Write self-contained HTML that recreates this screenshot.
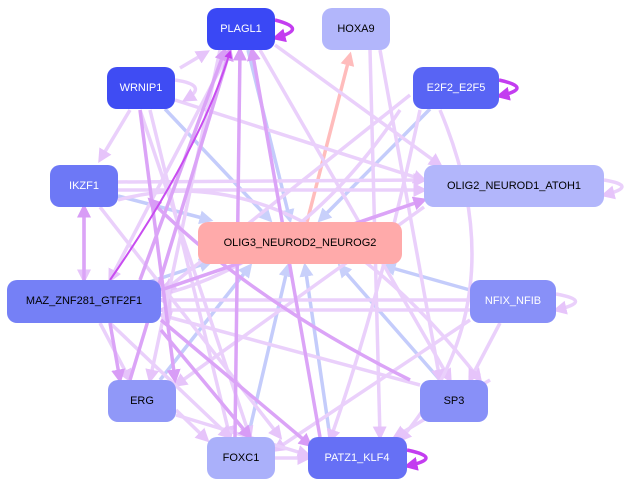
<!DOCTYPE html>
<html><head><meta charset="utf-8"><style>
body{margin:0;background:#fff}
svg{display:block}
text{font-family:"Liberation Sans",sans-serif;font-size:11px;fill:#fff;text-anchor:middle;dominant-baseline:central}
</style></head><body>
<svg width="636" height="489" viewBox="0 0 636 489">
<defs>
<marker id="a1" markerWidth="4" markerHeight="4" refX="3" refY="2" orient="auto"><path d="M0,0L4,2L0,4z" fill="#e6c4fa"/></marker>
<marker id="a2" markerWidth="4" markerHeight="4" refX="3" refY="2" orient="auto"><path d="M0,0L4,2L0,4z" fill="#d89cf6"/></marker>
<marker id="a3" markerWidth="4" markerHeight="4" refX="3" refY="2" orient="auto"><path d="M0,0L4,2L0,4z" fill="#c8d0fb"/></marker>
<marker id="a4" markerWidth="4" markerHeight="4" refX="3" refY="2" orient="auto"><path d="M0,0L4,2L0,4z" fill="#c33df0"/></marker>
<marker id="a5" markerWidth="4" markerHeight="4" refX="3" refY="2" orient="auto"><path d="M0,0L4,2L0,4z" fill="#ffbcbc"/></marker>
</defs>
<g fill="none" stroke-width="3.5">
<g stroke="#c4ccfb" marker-end="url(#a3)">
<line x1="248" y1="50" x2="290" y2="220"/>
<line x1="165" y1="109" x2="270" y2="220"/>
<line x1="118" y1="196" x2="210" y2="220"/>
<line x1="430" y1="109" x2="320" y2="220"/>
<line x1="140" y1="285" x2="210" y2="262"/>
<line x1="470" y1="290" x2="385" y2="266"/>
<line x1="440" y1="380" x2="340" y2="266"/>
<line x1="160" y1="380" x2="250" y2="266"/>
<line x1="248" y1="437" x2="288" y2="266"/>
<line x1="330" y1="437" x2="305" y2="266"/>
</g>
<line x1="307" y1="222" x2="350" y2="55" stroke="#ffbcbc" marker-end="url(#a5)"/>
<g stroke="#ead0fb" marker-end="url(#a1)">
<line x1="130" y1="110" x2="100" y2="160"/>
<line x1="180" y1="68" x2="207" y2="52"/>
<line x1="175" y1="100" x2="424" y2="180"/>
<line x1="118" y1="182" x2="424" y2="180"/>
<line x1="118" y1="190" x2="424" y2="190"/>
<path d="M118,200 Q300,150 480,380"/>
<line x1="275" y1="45" x2="440" y2="165"/>
<line x1="260" y1="50" x2="450" y2="380"/>
<path d="M400,110 Q300,260 160,295"/>
<line x1="410" y1="95" x2="165" y2="290"/>
<line x1="470" y1="300" x2="161" y2="300"/>
<line x1="470" y1="310" x2="161" y2="310"/>
<line x1="424" y1="200" x2="161" y2="290"/>
<line x1="420" y1="385" x2="161" y2="315"/>
<line x1="424" y1="207" x2="176" y2="385"/>
<line x1="470" y1="320" x2="275" y2="450"/>
<line x1="490" y1="380" x2="395" y2="437"/>
<line x1="500" y1="323" x2="470" y2="380"/>
<line x1="370" y1="50" x2="380" y2="437"/>
<line x1="380" y1="50" x2="440" y2="380"/>
<path d="M440,110 Q520,300 400,440"/>
<path d="M420,110 Q380,300 330,440"/>
<line x1="150" y1="110" x2="230" y2="437"/>
<line x1="140" y1="110" x2="250" y2="437"/>
<line x1="176" y1="410" x2="207" y2="440"/>
<line x1="176" y1="415" x2="308" y2="455"/>
<line x1="275" y1="458" x2="308" y2="458"/>
<line x1="100" y1="323" x2="130" y2="380"/>
<line x1="110" y1="323" x2="230" y2="437"/>
<line x1="84" y1="207" x2="84" y2="280"/>
<line x1="100" y1="207" x2="280" y2="437"/>
<line x1="230" y1="50" x2="110" y2="280"/>
<line x1="220" y1="50" x2="150" y2="380"/>
<path d="M175,80 Q210,85 185,100"/>
<path d="M604,180 Q640,186 604,195"/>
<path d="M556,294 Q595,301 556,310"/>
</g>
<g stroke="#dba4f7" marker-end="url(#a2)">
<line x1="140" y1="280" x2="225" y2="50"/>
<line x1="130" y1="380" x2="230" y2="50"/>
<line x1="235" y1="437" x2="240" y2="50"/>
<line x1="320" y1="437" x2="252" y2="50"/>
<line x1="140" y1="110" x2="175" y2="380"/>
<line x1="161" y1="320" x2="310" y2="445"/>
<line x1="161" y1="330" x2="250" y2="437"/>
<line x1="84" y1="280" x2="84" y2="207"/>
<line x1="110" y1="323" x2="120" y2="380"/>
<line x1="161" y1="290" x2="424" y2="200"/>
<path d="M410,380 Q250,300 150,200"/>
</g>
<path d="M110,280 Q200,150 230,52" stroke="#c84cf0" stroke-width="2" marker-end="url(#a4)"/>
<path d="M275,20 Q310,29 275,38" stroke="#c33df0" marker-end="url(#a4)"/>
<path d="M499,80 Q535,88 499,96" stroke="#c33df0" marker-end="url(#a4)"/>
<path d="M407,450 Q445,458 407,466" stroke="#c33df0" marker-end="url(#a4)"/>
</g>
<g>
<rect x="207" y="8" width="68" height="42" rx="10" fill="#3a48f5"/><text x="241" y="29">PLAGL1</text>
<rect x="322" y="8" width="68" height="42" rx="10" fill="#b2b6fb"/><text x="356" y="29" style="fill:#000">HOXA9</text>
<rect x="107" y="67" width="68" height="42" rx="10" fill="#3f4cf3"/><text x="141" y="88">WRNIP1</text>
<rect x="413" y="67" width="86" height="42" rx="10" fill="#5864f4"/><text x="456" y="88">E2F2_E2F5</text>
<rect x="50" y="165" width="68" height="42" rx="10" fill="#6d78f6"/><text x="84" y="186">IKZF1</text>
<rect x="424" y="165" width="180" height="42" rx="10" fill="#b2b6fb"/><text x="514" y="186" style="fill:#000">OLIG2_NEUROD1_ATOH1</text>
<rect x="198" y="222" width="204" height="42" rx="10" fill="#ffaaaa"/><text x="300" y="243" style="fill:#000">OLIG3_NEUROD2_NEUROG2</text>
<rect x="7" y="280" width="154" height="43" rx="10" fill="#7580f6"/><text x="84" y="301" style="fill:#000">MAZ_ZNF281_GTF2F1</text>
<rect x="470" y="280" width="86" height="43" rx="10" fill="#8890f8"/><text x="513" y="301">NFIX_NFIB</text>
<rect x="108" y="380" width="68" height="42" rx="10" fill="#9098f8"/><text x="142" y="401" style="fill:#000">ERG</text>
<rect x="420" y="380" width="68" height="42" rx="10" fill="#8890f8"/><text x="454" y="401" style="fill:#000">SP3</text>
<rect x="207" y="437" width="68" height="42" rx="10" fill="#aab0fa"/><text x="241" y="458" style="fill:#000">FOXC1</text>
<rect x="308" y="437" width="99" height="42" rx="10" fill="#6670f5"/><text x="357" y="458">PATZ1_KLF4</text>
</g>
</svg>
</body></html>
